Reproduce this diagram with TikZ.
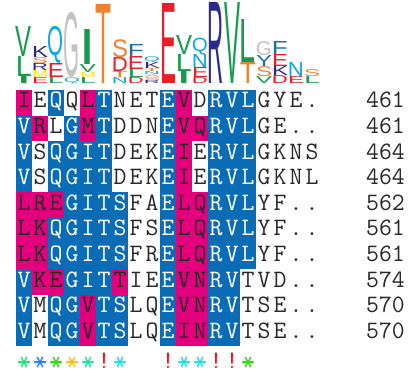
\documentclass[tikz,border=0pt]{standalone}
\usepackage{fontspec}
\newfontfamily\logofont{Liberation Sans}
\usepackage{graphicx}
\usepackage{tikz}
\usetikzlibrary{positioning}

\definecolor{cellb}{RGB}{10,108,180}
\definecolor{cellm}{RGB}{228,0,125}
\definecolor{cellw}{RGB}{255,255,255}
\definecolor{inkw}{RGB}{40,40,40}
\definecolor{inkm}{RGB}{40,40,40}
\definecolor{inkb}{RGB}{255,255,255}
% logo colours
\definecolor{lgreen}{RGB}{20,155,75}
\definecolor{lnavy}{RGB}{42,42,140}
\definecolor{lcyan}{RGB}{15,168,224}
\definecolor{lgray}{RGB}{195,195,195}
\definecolor{lorange}{RGB}{240,128,50}
\definecolor{lred}{RGB}{235,30,40}
\definecolor{lyellow}{RGB}{255,232,0}
\definecolor{lteal}{RGB}{30,110,168}
\definecolor{lpink}{RGB}{240,150,160}
% conservation marks
\definecolor{stA}{RGB}{30,230,120}
\definecolor{stB}{RGB}{40,130,255}
\definecolor{stC}{RGB}{50,220,20}
\definecolor{stD}{RGB}{255,190,30}
\definecolor{stE}{RGB}{40,225,160}
\definecolor{stF}{RGB}{40,220,230}
\definecolor{stR}{RGB}{240,20,30}

\begin{document}
\begin{tikzpicture}[
  x=1pt, y=-1pt,
  res/.style={inner sep=0pt, anchor=base, font=\fontsize{25}{25}\selectfont\ttfamily},
  logo/.style={inner sep=0pt, anchor=south, font=\logofont},
  starline/.style={line width=1.5pt, line cap=round}
]
\useasboundingbox (0,0) rectangle (408,377);

% sequence logo
\foreach \k/\ya/\yb/\ch/\clr [count=\n] in {
  0/27/57/V/lgreen, 0/57/77/L/lgreen, 0/77/84/I/lgreen,
  1/47/58/K/lnavy, 1/58/64/S/lorange, 1/64/71/R/lnavy, 1/71/78/M/lyellow, 1/78/84/E/lred,
  2/27/64/Q/lcyan, 2/64/78/E/lred, 2/78/84/L/lgreen,
  3/13/78/G/lgray, 3/78/84/Q/lcyan,
  4/30/65/I/lgreen, 4/65/73/V/lgreen, 4/73/78/M/lyellow, 4/78/84/L/lgreen,
  5/5/84/T/lorange,
  6/40/58/S/lorange, 6/58/72/D/lred, 6/72/78/T/lorange, 6/78/84/N/lcyan,
  7/45/57/F/lteal, 7/57/70/E/lred, 7/70/78/L/lgreen, 7/78/84/D/lred,
  8/57/63/Q/lcyan, 8/63/69/K/lnavy, 8/69/72/T/lorange, 8/72/75/N/lcyan,
  8/75/78/A/lpink, 8/78/81/S/lorange, 8/81/84/R/lnavy,
  9/4/84/E/lred,
  10/36/55/V/lgreen, 10/55/72/L/lgreen, 10/72/84/I/lgreen,
  11/38/55/Q/lcyan, 11/55/68/N/lcyan, 11/68/78/E/lred, 11/78/84/D/lred,
  12/3/84/R/lnavy,
  13/3/84/V/lgreen,
  14/20/63/L/lgreen, 14/63/84/T/lorange,
  15/42/56/G/lgray, 15/56/67/Y/lteal, 15/67/77/S/lorange, 15/77/84/V/lgreen,
  16/42/55/F/lteal, 16/55/67/E/lred, 16/67/76/K/lnavy, 16/76/84/D/lred,
  17/63/77/N/lcyan, 17/77/84/E/lred,
  18/70/77/S/lorange, 18/77/84/L/lgreen}
  \node[logo, text=\clr] (lg\n) at ({24+16*\k},\yb)
    {\resizebox*{16pt}{\dimexpr\yb pt-\ya pt\relax}{\ch}};

% alignment
\foreach \cells/\num [count=\r] in {
  {I/m,E/w,Q/b,Q/w,L/m,T/b,N/w,E/w,T/w,E/b,V/m,D/w,R/b,V/b,L/b,G/w,Y/w,E/w,./w}/461,
  {V/b,R/m,L/w,G/b,M/m,T/b,D/w,D/w,N/w,E/b,V/m,Q/m,R/b,V/b,L/b,G/w,E/w,./w,./w}/461,
  {V/b,S/w,Q/b,G/b,I/b,T/b,D/w,E/w,K/w,E/b,I/m,E/w,R/b,V/b,L/b,G/w,K/w,N/w,S/w}/464,
  {V/b,S/w,Q/b,G/b,I/b,T/b,D/w,E/w,K/w,E/b,I/m,E/w,R/b,V/b,L/b,G/w,K/w,N/w,L/w}/464,
  {L/m,R/m,E/m,G/b,I/b,T/b,S/b,F/w,A/w,E/b,L/m,Q/m,R/b,V/b,L/b,Y/w,F/w,./w,./w}/562,
  {L/m,K/m,Q/b,G/b,I/b,T/b,S/b,F/w,S/w,E/b,L/m,Q/m,R/b,V/b,L/b,Y/w,F/w,./w,./w}/561,
  {L/m,K/m,Q/b,G/b,I/b,T/b,S/b,F/w,R/w,E/b,L/m,Q/m,R/b,V/b,L/b,Y/w,F/w,./w,./w}/561,
  {V/b,K/m,E/m,G/b,I/b,T/b,T/m,I/w,E/w,E/b,V/m,N/m,R/b,V/b,T/w,V/w,D/w,./w,./w}/574,
  {V/b,M/w,Q/b,G/b,V/m,T/b,S/b,L/w,Q/w,E/b,V/m,N/m,R/b,V/b,T/w,S/w,E/w,./w,./w}/570,
  {V/b,M/w,Q/b,G/b,V/m,T/b,S/b,L/w,Q/w,E/b,I/m,N/m,R/b,V/b,T/w,S/w,E/w,./w,./w}/570} {
  \foreach \ch/\cd [count=\k from 0] in \cells {
    \fill[cell\cd] ({16+16*\k},{90+25.6*(\r-1)}) rectangle +(16.3,25.9);
    \node[res, text=ink\cd] (a\r-\k) at ({24+16*\k},{108+25.6*(\r-1)}) {\ch};
  }
  \node[res, anchor=base east, text=inkw] (n\r) at (405,{108+25.6*(\r-1)}) {\num};
}

% conservation line
\foreach \k/\clr [count=\n] in {5/stR, 9/stR, 12/stR, 13/stR}
  \node[res, text=\clr] (m\n) at ({24+16*\k},369) {!};
\foreach \k/\clr in {0/stA, 1/stB, 2/stC, 3/stD, 4/stE, 6/stF, 10/stF, 11/stF, 14/stC}
  \foreach \ang in {0,60,120}
    \draw[starline, \clr] ({24+16*\k},362) ++(\ang:5.5) -- ++(\ang+180:11);
\end{tikzpicture}
\end{document}
